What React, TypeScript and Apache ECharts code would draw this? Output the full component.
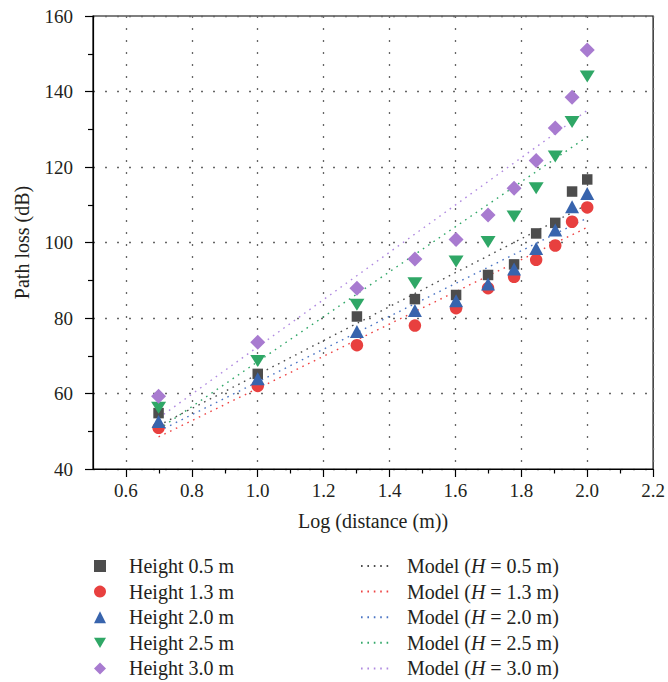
import React, { useEffect, useRef } from 'react';
import * as echarts from 'echarts';

// log10 of measurement distance (m)
const logDistance = [0.699, 1.0, 1.301, 1.477, 1.602, 1.699, 1.778, 1.845, 1.903, 1.954, 2.0];

const heightNames = ['Height 0.5 m', 'Height 1.3 m', 'Height 2.0 m', 'Height 2.5 m', 'Height 3.0 m'];
const modelNames = ['Model (H = 0.5 m)', 'Model (H = 1.3 m)', 'Model (H = 2.0 m)', 'Model (H = 2.5 m)', 'Model (H = 3.0 m)'];

// measured path loss (dB)
const loss05 = [54.8, 65.2, 80.4, 85.0, 86.1, 91.4, 94.2, 102.4, 105.2, 113.5, 116.7];
const loss13 = [50.9, 62.0, 72.8, 78.0, 82.6, 87.9, 90.9, 95.4, 99.2, 105.5, 109.3];
const loss20 = [52.6, 63.9, 76.4, 82.0, 84.6, 89.0, 93.0, 98.4, 103.3, 109.5, 113.0];
const loss25 = [56.2, 68.6, 83.5, 89.2, 95.0, 100.1, 106.9, 114.4, 122.8, 131.9, 144.0];
const loss30 = [59.3, 73.6, 87.9, 95.6, 100.8, 107.3, 114.4, 121.7, 130.3, 138.5, 151.0];
const measured = [loss05, loss13, loss20, loss25, loss30];

// model lines (linear in log distance): start / end
const modelLogRange = [0.699, 2.0];
const model05 = [51.5, 110.0];
const model13 = [48.5, 104.0];
const model20 = [50.0, 106.5];
const model25 = [50.5, 128.0];
const model30 = [53.5, 135.0];
const models = [model05, model13, model20, model25, model30];

// axis ticks
const xTickValues = [0.6, 0.8, 1.0, 1.2, 1.4, 1.6, 1.8, 2.0, 2.2];
const xMinorTickValues = [0.7, 0.9, 1.1, 1.3, 1.5, 1.7, 1.9, 2.1];

const FONT = '"Liberation Serif", "DejaVu Serif", serif';
const TEXT = '#231f20';
const markerColors = ['#4d4d4d', '#e8403f', '#3864ad', '#2fa766', '#a87bd0'];
const lineColors = ['#4d4d4d', '#ee4444', '#4a74c4', '#33a86a', '#b08ae0'];
const symbols = ['rect', 'circle', 'triangle', 'path://M0,0 L14,0 L7,12 Z', 'diamond'];
const symbolSizes: any[] = [[10.5, 10.5], 12.5, [14, 13], [15, 12], [15, 15]];

export default function App() {
  const ref = useRef<HTMLDivElement>(null);

  useEffect(() => {
    if (!ref.current) return;
    const chart = echarts.init(ref.current, undefined, { renderer: 'svg' });

    const lineSeries = modelNames.map((name, i) => ({
      name,
      type: 'line',
      xAxisIndex: 0,
      yAxisIndex: 0,
      data: modelLogRange.map((x, k) => [x, models[i][k]]),
      symbol: 'none',
      showSymbol: false,
      silent: true,
      z: 2,
      lineStyle: { color: lineColors[i], width: 1.4, type: [1.6, 4.8] },
      itemStyle: { color: lineColors[i] },
    }));

    const scatterSeries = heightNames.map((name, i) => ({
      name,
      type: 'scatter',
      xAxisIndex: 0,
      yAxisIndex: 0,
      data: logDistance.map((x, k) => [x, measured[i][k]]),
      symbol: symbols[i],
      symbolSize: symbolSizes[i],
      z: 3,
      itemStyle: { color: markerColors[i], opacity: 1 },
    }));

    const axisLineStyle = { color: '#000', width: 1.2 };
    const LEG_FS = 20;

    const option: any = {
      animation: false,
      backgroundColor: '#fff',
      grid: {
        left: 93,
        top: 16,
        width: 562,
        height: 453,
        show: true,
        borderColor: '#000',
        borderWidth: 1.2,
        backgroundColor: 'transparent',
      },
      xAxis: [
        {
          type: 'value',
          min: 0.5,
          max: 2.2,
          position: 'bottom',
          name: 'Log (distance (m))',
          nameLocation: 'middle',
          nameGap: 42,
          nameTextStyle: { fontFamily: FONT, fontSize: 20, color: TEXT },
          axisLine: { show: true, onZero: false, lineStyle: axisLineStyle },
          axisTick: { show: true, inside: false, length: 8, lineStyle: axisLineStyle, customValues: xTickValues },
          axisLabel: {
            customValues: xTickValues,
            margin: 12,
            fontFamily: FONT,
            fontSize: 19,
            color: TEXT,
            formatter: (v: number) => v.toFixed(1),
          },
          splitLine: { show: true, lineStyle: { type: [2, 10], color: '#666', width: 1.3 } },
        },
        {
          type: 'value',
          min: 0.5,
          max: 2.2,
          position: 'bottom',
          axisLine: { show: false, onZero: false },
          axisTick: { show: true, inside: false, length: 4.5, lineStyle: axisLineStyle, customValues: xMinorTickValues },
          axisLabel: { show: false },
          splitLine: { show: false },
        },
      ],
      yAxis: {
        type: 'value',
        min: 40,
        max: 160,
        interval: 20,
        name: 'Path loss (dB)',
        nameLocation: 'middle',
        nameGap: 61,
        nameRotate: 90,
        nameTextStyle: { fontFamily: FONT, fontSize: 20, color: TEXT },
        axisLine: { show: true, onZero: false, lineStyle: axisLineStyle },
        axisTick: { show: true, inside: false, length: 8, lineStyle: axisLineStyle },
        minorTick: { show: true, splitNumber: 2, length: 5, lineStyle: axisLineStyle },
        axisLabel: { margin: 20, fontFamily: FONT, fontSize: 19, color: TEXT },
        splitLine: { show: true, lineStyle: { type: [2, 10], color: '#666', width: 1.3 } },
        minorSplitLine: { show: false },
      },
      legend: [
        {
          data: heightNames,
          orient: 'vertical',
          left: 94,
          top: 556,
          padding: 0,
          itemWidth: 12,
          itemHeight: 12,
          itemGap: 5.6,
          selectedMode: false,
          formatter: (name: string) => '{s| }' + name,
          textStyle: {
            fontFamily: FONT,
            fontSize: LEG_FS,
            lineHeight: 20,
            color: TEXT,
            rich: { s: { width: 18, fontSize: LEG_FS, lineHeight: 20 } },
          },
        },
        {
          data: modelNames,
          orient: 'vertical',
          left: 360,
          top: 556,
          padding: 0,
          itemWidth: 30,
          itemHeight: 12,
          itemGap: 5.6,
          selectedMode: false,
          itemStyle: { color: 'rgba(0,0,0,0)', borderWidth: 0, opacity: 0 },
          formatter: (name: string) => '{s| }' + name.replace('H', '{i|H}'),
          textStyle: {
            fontFamily: FONT,
            fontSize: LEG_FS,
            lineHeight: 20,
            color: TEXT,
            rich: {
              s: { width: 11, fontSize: LEG_FS, lineHeight: 20 },
              i: { fontStyle: 'italic', fontFamily: FONT, fontSize: LEG_FS, lineHeight: 20, color: TEXT },
            },
          },
        },
      ],
      series: [...lineSeries, ...scatterSeries],
    };

    chart.setOption(option);
    return () => chart.dispose();
  }, []);

  return (
    <div
      ref={ref}
      style={{ position: 'fixed', left: 0, top: 0, width: 668, height: 682, background: '#fff' }}
    />
  );
}
